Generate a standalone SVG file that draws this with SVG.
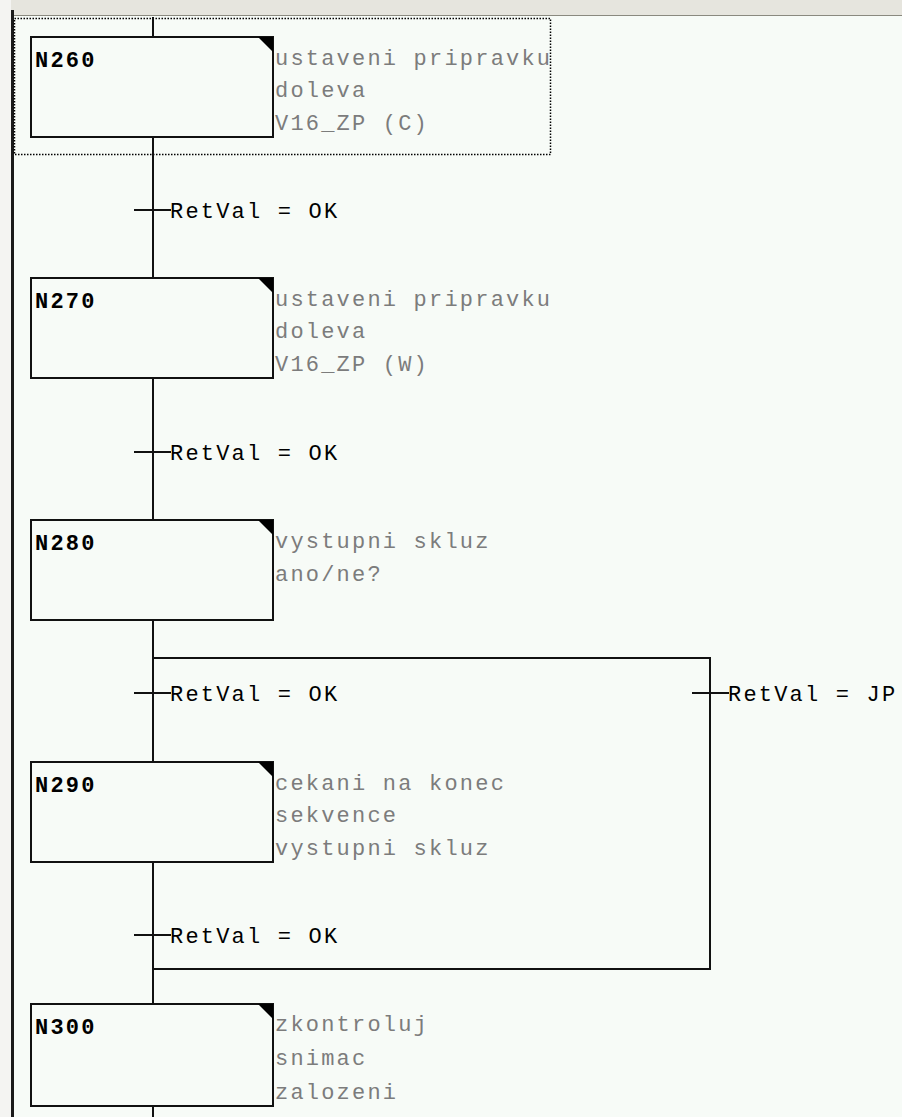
<svg xmlns="http://www.w3.org/2000/svg" width="902" height="1117" viewBox="0 0 902 1117">
<style>
.box{fill:#f7fbf7;stroke:#111;stroke-width:2}
.tri{fill:#000}
.lbl{font-family:"Liberation Mono",monospace;font-size:22px;letter-spacing:2.2px;fill:#000;font-weight:bold}
.desc{font-family:"Liberation Mono",monospace;font-size:22px;letter-spacing:2.2px;fill:#7c7c7c}
.cond{font-family:"Liberation Mono",monospace;font-size:22px;letter-spacing:2.2px;fill:#000}
.wire{stroke:#111;stroke-width:2;fill:none}
</style>
<rect x="0" y="0" width="902" height="1117" fill="#f7fbf7"/>
<rect x="0" y="0" width="11" height="1117" fill="#f4f4f2"/>
<rect x="11" y="0" width="891" height="15" fill="#e6e5de"/>
<line x1="11" y1="15.5" x2="902" y2="15.5" stroke="#8a897f" stroke-width="1"/>
<rect x="11" y="10" width="3" height="1107" fill="#1a1a1a"/>
<rect x="14.5" y="18.5" width="536" height="136" fill="none" stroke="#000" stroke-width="1.5" stroke-dasharray="1.5 1.5"/>

<g id="connectors">
<path class="wire" d="M153 17V37M153 137V278M153 378V520M153 620V762M153 862V1004M153 1106V1117"/>
<path class="wire" d="M153 658H710V969H153"/>
<path class="wire" d="M134 210H171M134 452H171M134 693H171M692 693H729M134 935H171"/>
</g>

<g id="t1"><text class="cond" x="170" y="218">RetVal = OK</text></g>
<g id="t2"><text class="cond" x="170" y="460">RetVal = OK</text></g>
<g id="t3"><text class="cond" x="170" y="701">RetVal = OK</text></g>
<g id="t4"><text class="cond" x="728" y="701">RetVal = JP</text></g>
<g id="t5"><text class="cond" x="170" y="943">RetVal = OK</text></g>

<g id="N260" transform="translate(0,37)">
<rect class="box" x="31" y="0" width="242" height="100"/>
<polygon class="tri" points="258,0 273,0 273,15"/>
<text class="lbl" x="35" y="30">N260</text>
<text class="desc" x="275" y="28">ustaveni pripravku</text>
<text class="desc" x="275" y="60">doleva</text>
<text class="desc" x="275" y="93">V16_ZP (C)</text>
</g>
<g id="N270" transform="translate(0,278)">
<rect class="box" x="31" y="0" width="242" height="100"/>
<polygon class="tri" points="258,0 273,0 273,15"/>
<text class="lbl" x="35" y="30">N270</text>
<text class="desc" x="275" y="28">ustaveni pripravku</text>
<text class="desc" x="275" y="60">doleva</text>
<text class="desc" x="275" y="93">V16_ZP (W)</text>
</g>
<g id="N280" transform="translate(0,520)">
<rect class="box" x="31" y="0" width="242" height="100"/>
<polygon class="tri" points="258,0 273,0 273,15"/>
<text class="lbl" x="35" y="30">N280</text>
<text class="desc" x="275" y="28">vystupni skluz</text>
<text class="desc" x="275" y="61">ano/ne?</text>
</g>
<g id="N290" transform="translate(0,762)">
<rect class="box" x="31" y="0" width="242" height="100"/>
<polygon class="tri" points="258,0 273,0 273,15"/>
<text class="lbl" x="35" y="30">N290</text>
<text class="desc" x="275" y="28">cekani na konec</text>
<text class="desc" x="275" y="60">sekvence</text>
<text class="desc" x="275" y="93">vystupni skluz</text>
</g>
<g id="N300" transform="translate(0,1004)">
<rect class="box" x="31" y="0" width="242" height="102"/>
<polygon class="tri" points="258,0 273,0 273,15"/>
<text class="lbl" x="35" y="30">N300</text>
<text class="desc" x="275" y="27">zkontroluj</text>
<text class="desc" x="275" y="61">snimac</text>
<text class="desc" x="275" y="95">zalozeni</text>
</g>
</svg>
